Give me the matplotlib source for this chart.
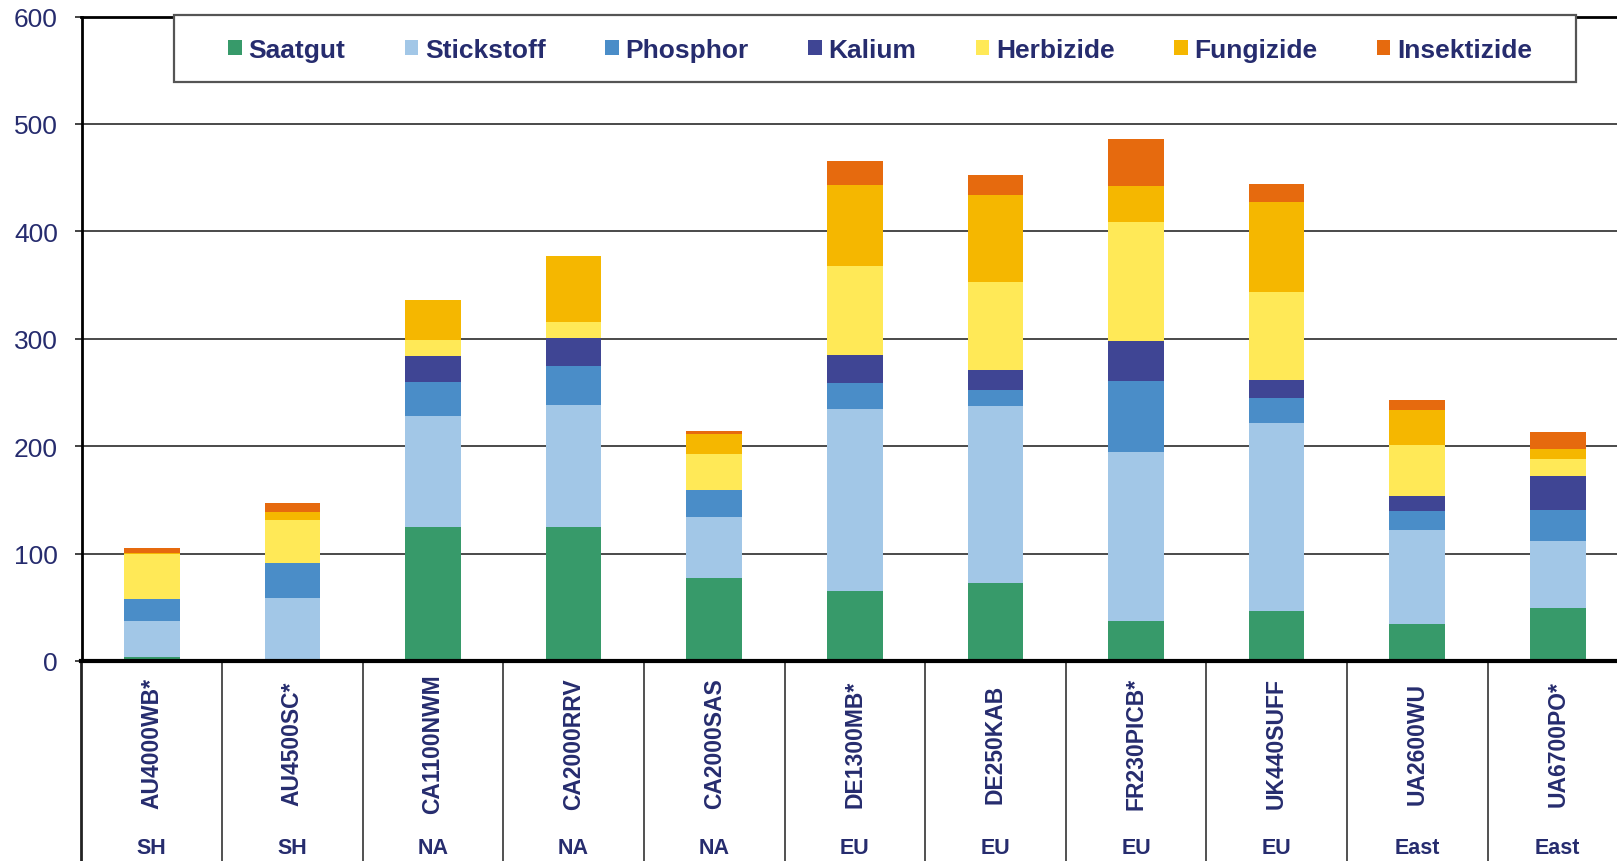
import matplotlib
matplotlib.use("Agg")
import matplotlib.pyplot as plt
import matplotlib.transforms as mtransforms
from matplotlib.patches import Rectangle, Patch
import numpy as np

plt.rcParams['font.family'] = ['Liberation Sans', 'DejaVu Sans']

categories = ['AU4000WB*', 'AU4500SC*', 'CA1100NWM', 'CA2000RRV', 'CA2000SAS',
              'DE1300MB*', 'DE250KAB', 'FR230PICB*', 'UK440SUFF', 'UA2600WU', 'UA6700PO*']
regions = ['SH', 'SH', 'NA', 'NA', 'NA', 'EU', 'EU', 'EU', 'EU', 'East', 'East']

series_names = ['Saatgut', 'Stickstoff', 'Phosphor', 'Kalium', 'Herbizide', 'Fungizide', 'Insektizide']
saatgut = [4, 2, 125, 125, 77.5, 65, 72.5, 37.5, 47, 34.5, 49]
stickstoff = [33, 57, 103, 113, 56.5, 170, 165, 157.5, 174.5, 87, 63]
phosphor = [21, 32, 32, 37, 25, 24, 14.5, 65.5, 23.5, 18.5, 28.5]
kalium = [0, 0, 24, 25.5, 0, 26, 18.5, 37.5, 17, 14, 32]
herbizide = [42, 40, 15, 15, 34, 83, 82.5, 110.5, 81.5, 47, 15.5]
fungizide = [1, 7.5, 37, 62, 18, 75, 80.5, 34, 84, 33, 9.5]
insektizide = [4, 9, 0, 0, 3, 22.5, 18.5, 43.5, 16.5, 9, 16]
yticks = [0, 100, 200, 300, 400, 500, 600]

colors = ['#379A6A', '#A2C7E7', '#4A8DC8', '#3F4594', '#FFE957', '#F5B700', '#E66A0E']
navy = '#262C6E'

W, H = 1617, 862
fig = plt.figure(figsize=(W / 100, H / 100), dpi=100)
ax_left = 81.5 / W
ax_right = (81.5 + 11 * 140.6) / W
ax_bottom = 200 / H
ax_top = (H - 17.5) / H
ax = fig.add_axes([ax_left, ax_bottom, ax_right - ax_left, ax_top - ax_bottom])

data = [saatgut, stickstoff, phosphor, kalium, herbizide, fungizide, insektizide]
x = np.arange(len(categories))
bottom = np.zeros(len(categories))
for name, vals, c in zip(series_names, data, colors):
    vals = np.array(vals, dtype=float)
    ax.bar(x, vals, width=0.395, bottom=bottom, color=c, edgecolor='none', zorder=3, label=name)
    bottom += vals

ax.set_xlim(-0.5, len(categories) - 0.5)
ax.set_ylim(0, 600)
ax.set_yticks(yticks)
ax.set_yticklabels([str(v) for v in yticks], fontsize=19, color=navy)
ax.tick_params(axis='y', length=5, width=1.2, pad=12, color='#222222')
ax.set_xticks([])
for yv in yticks[1:-1]:
    ax.axhline(yv, color='#4a4a4a', lw=1.4, zorder=1)

ax.spines['right'].set_visible(False)
ax.spines['top'].set_color('black')
ax.spines['top'].set_linewidth(2)
ax.spines['left'].set_color('black')
ax.spines['left'].set_linewidth(2)
ax.spines['bottom'].set_color('black')
ax.spines['bottom'].set_linewidth(3)
ax.spines['bottom'].set_zorder(4)

trans = mtransforms.blended_transform_factory(ax.transData, ax.transAxes)
ybot = -ax_bottom / (ax_top - ax_bottom) - 0.01
for b in np.arange(-0.5, len(categories), 1.0):
    ax.plot([b, b], [0, ybot], transform=trans, color='#222222',
            lw=2 if b == -0.5 else 1.1, clip_on=False, zorder=2)

px_per_axes = (ax_top - ax_bottom) * H
y_lab = (862 - 744 - 200) / px_per_axes
y_reg = (862 - 849 - 200) / px_per_axes
for i, (cat, reg) in enumerate(zip(categories, regions)):
    ax.text(i, y_lab, cat, transform=trans, rotation=90, ha='center', va='center',
            fontsize=16.5, fontweight='bold', color=navy, clip_on=False)
    ax.text(i, y_reg, reg, transform=trans, ha='center', va='center',
            fontsize=15.5, fontweight='bold', color=navy, clip_on=False)

# legend frame
rect = Rectangle((174 / W, 1 - 82.5 / H), (1576 - 174) / W, (82.5 - 15.6) / H,
                 transform=fig.transFigure, facecolor='white', edgecolor='#555555',
                 lw=1.6, zorder=5)
fig.add_artist(rect)
handles = [Patch(facecolor=c, edgecolor='none') for c in colors]
leg = fig.legend(handles, series_names, loc='center', ncol=7,
                 bbox_to_anchor=(880 / W, 1 - 51 / H), bbox_transform=fig.transFigure,
                 frameon=False, handlelength=0.52, handleheight=0.52, handletextpad=0.25,
                 columnspacing=2.25, prop={'size': 19, 'weight': 'bold'})
for t in leg.get_texts():
    t.set_color(navy)
leg.set_zorder(10)

fig.savefig('out.png', dpi=100)
